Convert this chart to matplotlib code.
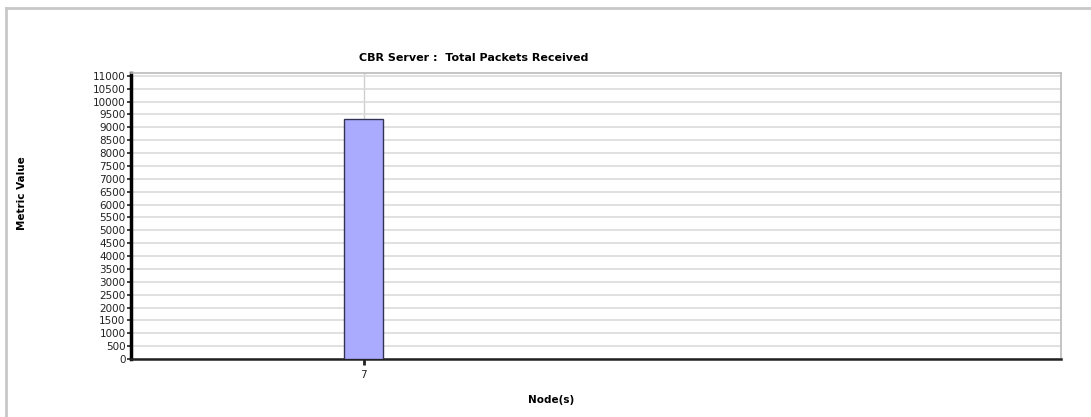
import matplotlib
matplotlib.use("Agg")
import matplotlib.pyplot as plt
from matplotlib.lines import Line2D
import numpy as np

# data
nodes = ["7"]
packets = [9320]
yticks = list(range(0, 11001, 500))

fig = plt.figure(figsize=(10.91, 4.17), dpi=100)
ax = fig.add_axes([0.1201, 0.1391, 0.8524, 0.6858])

x = np.arange(len(nodes))
ax.bar(x, packets, width=0.082, color="#aaaaff", edgecolor="#333355", linewidth=1.0, zorder=3)

ax.set_xlim(-0.5, 1.5)
ax.set_ylim(0, 11110)
ax.set_yticks(yticks)
ax.set_yticklabels([str(v) for v in yticks], fontsize=7.5, color="#222222")
ax.set_xticks(x)
ax.set_xticklabels(nodes, fontsize=7.5, color="#222222")

ax.grid(axis="y", color="#dadada", linewidth=1.2, zorder=0)
for xi in x:
    ax.axvline(xi, color="#d0d0d0", linewidth=1.0, zorder=1)

ax.tick_params(axis="y", length=3, width=1.2, color="#222222", pad=1)
ax.tick_params(axis="x", length=4, width=2, color="#222222", pad=4)

ax.spines["left"].set_linewidth(2.5)
ax.spines["left"].set_color("black")
ax.spines["bottom"].set_linewidth(1.8)
ax.spines["bottom"].set_color("#222222")
ax.spines["right"].set_color("#bbbbbb")
ax.spines["right"].set_linewidth(1.2)
ax.spines["top"].set_color("#bbbbbb")
ax.spines["top"].set_linewidth(1.2)

fig.text(0.434, 0.862, "CBR Server :  Total Packets Received", fontsize=8, fontweight="bold",
         ha="center", va="center")
fig.text(0.505, 0.04, "Node(s)", fontsize=7.5, fontweight="bold", ha="center", va="center")
fig.text(0.020, 0.537, "Metric Value", fontsize=7.5, fontweight="bold", rotation=90,
         ha="center", va="center")

# outer frame of the panel
fig.add_artist(Line2D([0.0055, 1.0], [0.981, 0.981], color="#c8c8c8", linewidth=2))
fig.add_artist(Line2D([0.0055, 0.0055], [0.0, 0.981], color="#c8c8c8", linewidth=2))

fig.savefig("out.png", dpi=100)
